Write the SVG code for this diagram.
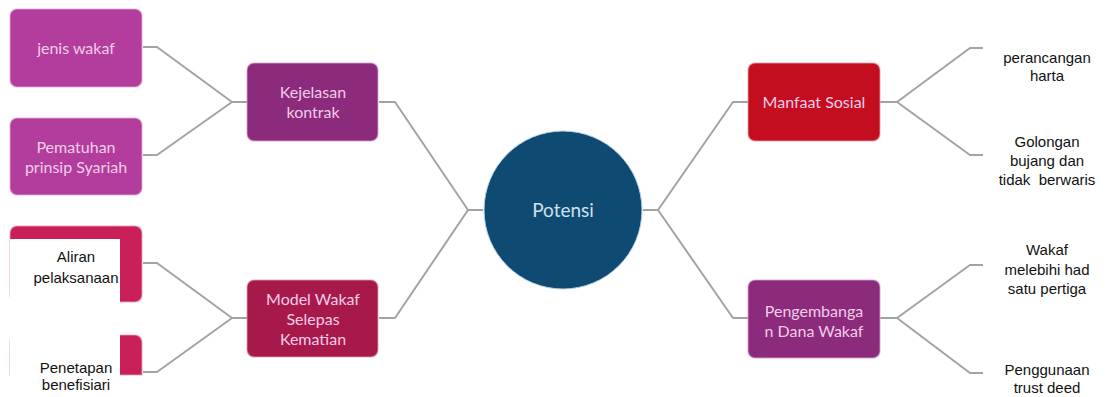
<svg xmlns="http://www.w3.org/2000/svg" width="1107" height="397" viewBox="0 0 1107 397">
<style>
.bg{fill:#ffffff}
.box{stroke-width:1.5;stroke-opacity:0.55}
.bt{font-family:Lato,"Open Sans","DejaVu Sans",sans-serif;font-size:16px;fill:#f2cde8;text-anchor:middle}
.lt{font-family:"Liberation Sans",Arial,sans-serif;font-size:15px;fill:#111111;text-anchor:middle;white-space:pre}
.con{fill:none;stroke:#a3a3a3;stroke-width:2;stroke-linejoin:round}
.mag{fill:#b33d9d;stroke:#e6a8d8}
.plum{fill:#8c2b7c;stroke:#d9a0cf}
.crim{fill:#c9205a;stroke:#e8a0b8}
.wine{fill:#a8194b;stroke:#dc9cb2}
.red{fill:#c40d1f;stroke:#eaa0a8}
</style>
<rect class="bg" x="0" y="0" width="1107" height="397"/>
<g id="connectors">
<path class="con" d="M483 210H468L395 102H379M468 210L395 318H379"/>
<path class="con" d="M247 102H232L157 47H143M232 102L157 155H143"/>
<path class="con" d="M247 318H232L157 263H143M232 318L157 372H143"/>
<path class="con" d="M643 210H658L733 102H748M658 210L733 318H748"/>
<path class="con" d="M880 102H897L970 48H983M897 102L970 155H983"/>
<path class="con" d="M880 318H897L970 265H983M897 318L970 373H983"/>
</g>
<g id="potensi">
<circle cx="563" cy="210" r="79" fill="#0e4a72" stroke="#b9d3e6" stroke-width="1"/>
<text class="bt" x="563" y="217" style="font-size:19px;fill:#cfe0ee">Potensi</text>
</g>
<g id="kejelasan">
<rect class="box plum" x="247" y="63" width="131" height="78" rx="7"/>
<text class="bt" x="313" y="98">Kejelasan</text>
<text class="bt" x="313" y="118">kontrak</text>
</g>
<g id="jenis-wakaf">
<rect class="box mag" x="10" y="9" width="132" height="78" rx="7"/>
<text class="bt" x="76" y="54">jenis wakaf</text>
</g>
<g id="pematuhan">
<rect class="box mag" x="10" y="118" width="132" height="77" rx="7"/>
<text class="bt" x="76" y="153">Pematuhan</text>
<text class="bt" x="76" y="173">prinsip Syariah</text>
</g>
<g id="model-wakaf">
<rect class="box wine" x="247" y="280" width="131" height="77" rx="7"/>
<text class="bt" x="313" y="305">Model Wakaf</text>
<text class="bt" x="313" y="325">Selepas</text>
<text class="bt" x="313" y="345">Kematian</text>
</g>
<g id="aliran">
<rect class="box crim" x="10" y="226" width="132" height="76" rx="7"/>
<rect class="bg" x="10" y="239" width="110" height="70"/>
<text class="lt" x="76" y="262">Aliran</text>
<text class="lt" x="76" y="283">pelaksanaan</text>
</g>
<g id="penetapan">
<path class="box crim" d="M10 375V342A7 7 0 0 1 17 335H135A7 7 0 0 1 142 342V375Z" stroke="none"/>
<rect class="bg" x="10" y="334" width="110" height="63"/>
<text class="lt" x="76" y="373">Penetapan</text>
<text class="lt" x="76" y="390">benefisiari</text>
</g>
<g id="manfaat">
<rect class="box red" x="748" y="63" width="132" height="78" rx="7"/>
<text class="bt" x="814" y="108">Manfaat Sosial</text>
</g>
<g id="pengembangan">
<rect class="box plum" x="748" y="280" width="132" height="78" rx="7"/>
<text class="bt" x="814" y="317">Pengembanga</text>
<text class="bt" x="814" y="337">n Dana Wakaf</text>
</g>
<g id="perancangan">
<text class="lt" x="1047" y="63">perancangan</text>
<text class="lt" x="1047" y="81">harta</text>
</g>
<g id="golongan">
<text class="lt" x="1047" y="147">Golongan</text>
<text class="lt" x="1047" y="166">bujang dan</text>
<text class="lt" x="1047" y="185">tidak  berwaris</text>
</g>
<g id="wakaf-melebihi">
<text class="lt" x="1047" y="255">Wakaf</text>
<text class="lt" x="1047" y="275">melebihi had</text>
<text class="lt" x="1047" y="294">satu pertiga</text>
</g>
<g id="penggunaan">
<text class="lt" x="1047" y="375">Penggunaan</text>
<text class="lt" x="1047" y="393">trust deed</text>
</g>
</svg>
